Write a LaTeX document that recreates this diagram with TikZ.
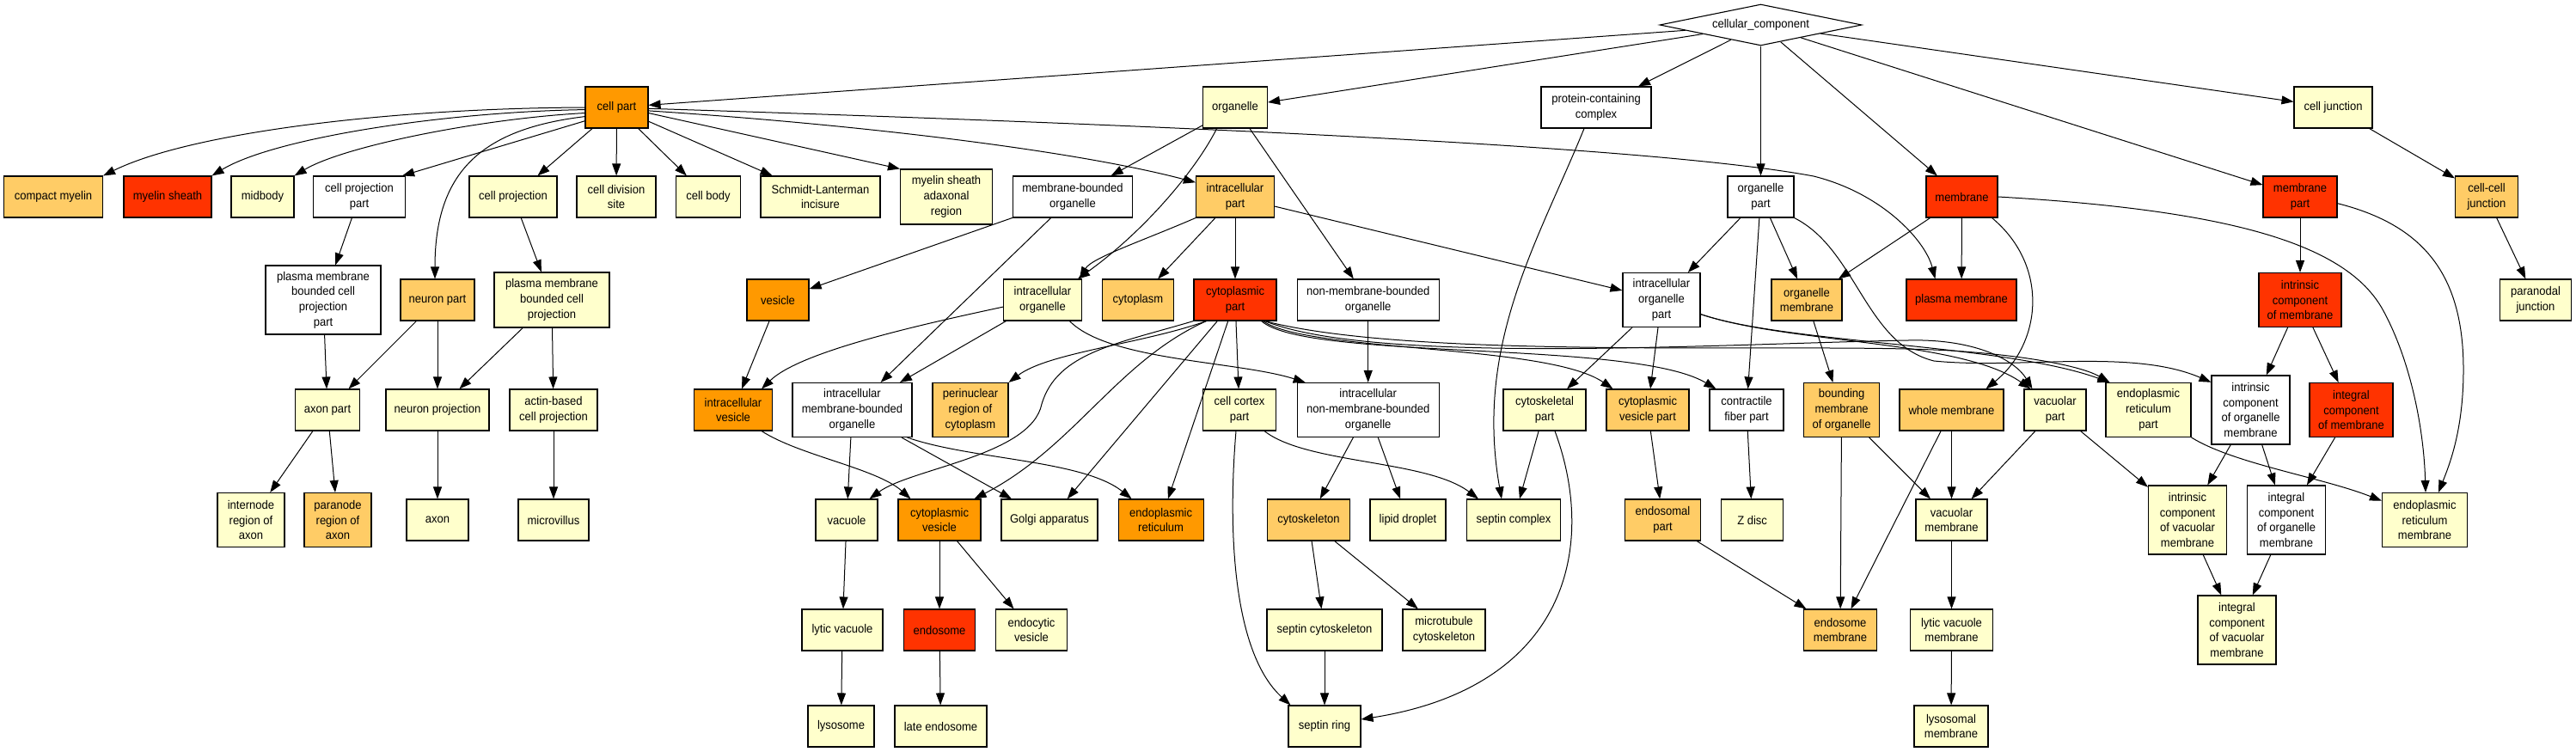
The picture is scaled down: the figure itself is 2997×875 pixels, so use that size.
\documentclass[tikz,border=0pt]{standalone}
\usepackage{fontspec}
\setmainfont{Liberation Sans}[FakeStretch=0.93]
\usetikzlibrary{arrows.meta,shapes.geometric}
\definecolor{cOr}{HTML}{FF9900}
\definecolor{cRd}{HTML}{FF3300}
\definecolor{cLo}{HTML}{FFCC66}
\definecolor{cPl}{HTML}{FFFFCC}
\newcommand\gofont{\fontsize{14}{17.7}\selectfont}
\tikzset{
 gn/.style={draw=black, line width=1.1pt, rectangle, align=center, inner sep=0pt, font=\gofont, minimum height=48, fill=white},
 wd/.style={minimum width=#1},
 ht/.style={minimum height=#1},
 fOr/.style={fill=cOr}, fRd/.style={fill=cRd}, fLo/.style={fill=cLo}, fPl/.style={fill=cPl},
 ed/.style={draw=black, line width=1pt, -{Triangle[length=14pt,width=10pt]}}
}
\begin{document}
\begin{tikzpicture}[x=1pt,y=-1pt]
\fill[white] (0,0) rectangle (2997,875);
\useasboundingbox (0,0) rectangle (2997,875);
% row 0
\node[draw=black,line width=1.1pt,diamond,aspect=4.9,minimum width=235,minimum height=48,inner sep=0pt,font=\gofont,fill=white] (cc) at (2048.5,29) {cellular\_component};
% row 1
\node[gn,fOr,wd=73] (cp) at (717.5,125) {cell part};
\node[gn,fPl,wd=75] (org) at (1437,125) {organelle};
\node[gn,wd=128] (pcc) at (1857,125) {protein-containing\\complex};
\node[gn,fPl,wd=91] (cj) at (2714.5,125) {cell junction};
% row 2
\node[gn,fLo,wd=115] (cm) at (62,229) {compact myelin};
\node[gn,fRd,wd=102] (ms) at (195,229) {myelin sheath};
\node[gn,fPl,wd=73] (mb) at (305.5,229) {midbody};
\node[gn,wd=107] (cpp) at (418,229) {cell projection\\part};
\node[gn,fPl,wd=102] (cpr) at (597,229) {cell projection};
\node[gn,fPl,wd=92] (cds) at (717,229) {cell division\\site};
\node[gn,fPl,wd=75] (cb) at (824,229) {cell body};
\node[gn,fPl,wd=139] (sli) at (954.5,229) {Schmidt-Lanterman\\incisure};
\node[gn,fPl,wd=107,ht=64] (msar) at (1101,229) {myelin sheath\\adaxonal\\region};
\node[gn,wd=139] (mbo) at (1248,229) {membrane-bounded\\organelle};
\node[gn,fLo,wd=91] (icp) at (1437,229) {intracellular\\part};
\node[gn,wd=77] (op) at (2048.5,229) {organelle\\part};
\node[gn,fRd,wd=83] (mem) at (2282.5,229) {membrane};
\node[gn,fRd,wd=86] (mp) at (2676,229) {membrane\\part};
\node[gn,fLo,wd=73] (ccj) at (2893,229) {cell-cell\\junction};
% row 3
\node[gn,wd=134,ht=80] (pmbcpp) at (376,349) {plasma membrane\\bounded cell\\projection\\part};
\node[gn,fLo,wd=86] (np) at (509,349) {neuron part};
\node[gn,fPl,wd=134,ht=64] (pmbcp) at (642,349) {plasma membrane\\bounded cell\\projection};
\node[gn,fOr,wd=72] (ves) at (905,349) {vesicle};
\node[gn,fPl,wd=91] (ico) at (1213,349) {intracellular\\organelle};
\node[gn,fLo,wd=83] (cyt) at (1324,349) {cytoplasm};
\node[gn,fRd,wd=96] (cyp) at (1437,349) {cytoplasmic\\part};
\node[gn,wd=165] (nmbo) at (1591.7,349) {non-membrane-bounded\\organelle};
\node[gn,wd=90,ht=63] (iop) at (1933,349) {intracellular\\organelle\\part};
\node[gn,fLo,wd=82] (om) at (2102,349) {organelle\\membrane};
\node[gn,fRd,wd=128] (pm) at (2282,349) {plasma membrane};
\node[gn,fRd,wd=96,ht=63] (icm) at (2676,349) {intrinsic\\component\\of membrane};
\node[gn,fPl,wd=83] (pj) at (2950,349) {paranodal\\junction};
% row 4
\node[gn,fPl,wd=75] (ap) at (381,477) {axon part};
\node[gn,fPl,wd=120] (npj) at (509,477) {neuron projection};
\node[gn,fPl,wd=102] (abcp) at (644,477) {actin-based\\cell projection};
\node[gn,fOr,wd=91] (iv) at (853,477) {intracellular\\vesicle};
\node[gn,wd=139,ht=63] (imbo) at (991.5,477) {intracellular\\membrane-bounded\\organelle};
\node[gn,fLo,wd=88,ht=63] (prc) at (1129,477) {perinuclear\\region of\\cytoplasm};
\node[gn,fPl,wd=85] (ccp) at (1442,477) {cell cortex\\part};
\node[gn,wd=165,ht=63] (inmbo) at (1591.7,477) {intracellular\\non-membrane-bounded\\organelle};
\node[gn,fPl,wd=96] (cskp) at (1797,477) {cytoskeletal\\part};
\node[gn,fLo,wd=96] (cvp) at (1917,477) {cytoplasmic\\vesicle part};
\node[gn,wd=86] (cfp) at (2032,477) {contractile\\fiber part};
\node[gn,fLo,wd=88,ht=63] (bmo) at (2142.6,477) {bounding\\membrane\\of organelle};
\node[gn,fLo,wd=121] (wm) at (2270.5,477) {whole membrane};
\node[gn,fPl,wd=72] (vp) at (2391,477) {vacuolar\\part};
\node[gn,fPl,wd=99,ht=63] (erp) at (2499.5,477) {endoplasmic\\reticulum\\part};
\node[gn,wd=91,ht=80] (icom) at (2618.5,477) {intrinsic\\component\\of organelle\\membrane};
\node[gn,fRd,wd=97,ht=63] (igm) at (2735.5,477) {integral\\component\\of membrane};
% row 5
\node[gn,fPl,wd=78,ht=63] (ira) at (292,605) {internode\\region of\\axon};
\node[gn,fLo,wd=78,ht=63] (pra) at (393,605) {paranode\\region of\\axon};
\node[gn,fPl,wd=72] (axon) at (509,605) {axon};
\node[gn,fPl,wd=82] (mv) at (644,605) {microvillus};
\node[gn,fPl,wd=72] (vac) at (985,605) {vacuole};
\node[gn,fOr,wd=96] (cv) at (1093,605) {cytoplasmic\\vesicle};
\node[gn,fPl,wd=112] (ga) at (1221,605) {Golgi apparatus};
\node[gn,fOr,wd=99] (er) at (1350.6,605) {endoplasmic\\reticulum};
\node[gn,fLo,wd=96] (csk) at (1522.5,605) {cytoskeleton};
\node[gn,fPl,wd=88] (ld) at (1638,605) {lipid droplet};
\node[gn,fPl,wd=109] (sc) at (1761,605) {septin complex};
\node[gn,fLo,wd=88] (ep) at (1934.5,605) {endosomal\\part};
\node[gn,fPl,wd=72] (zd) at (2038.6,605) {Z disc};
\node[gn,fPl,wd=83] (vm) at (2270.5,605) {vacuolar\\membrane};
\node[gn,fPl,wd=91,ht=80] (icvm) at (2545,605) {intrinsic\\component\\of vacuolar\\membrane};
\node[gn,wd=91,ht=80] (igom) at (2660,605) {integral\\component\\of organelle\\membrane};
\node[gn,fPl,wd=99,ht=63] (erm) at (2821,605) {endoplasmic\\reticulum\\membrane};
% row 6
\node[gn,fPl,wd=94] (lv) at (980,733) {lytic vacuole};
\node[gn,fRd,wd=83] (endo) at (1093,733) {endosome};
\node[gn,fPl,wd=83] (ecv) at (1200,733) {endocytic\\vesicle};
\node[gn,fPl,wd=134] (scs) at (1541,733) {septin cytoskeleton};
\node[gn,fPl,wd=96] (mtc) at (1680,733) {microtubule\\cytoskeleton};
\node[gn,fLo,wd=85] (em) at (2141,733) {endosome\\membrane};
\node[gn,fPl,wd=96] (lvm) at (2270.5,733) {lytic vacuole\\membrane};
\node[gn,fPl,wd=91,ht=80] (igvm) at (2602.5,733) {integral\\component\\of vacuolar\\membrane};
% row 7
\node[gn,fPl,wd=77] (lys) at (978.5,845) {lysosome};
\node[gn,fPl,wd=107] (le) at (1094.5,845) {late endosome};
\node[gn,fPl,wd=84] (sr) at (1541,845) {septin ring};
\node[gn,fPl,wd=86] (lsm) at (2270,845) {lysosomal\\membrane};

% straight edges
\foreach \a/\b in {cc/cp,cc/org,cc/pcc,cc/op,cc/mem,cc/mp,cc/cj,cp/cpr,cp/cds,cp/cb,cp/sli,
 org/mbo,org/nmbo,cj/ccj,ccj/pj,cpp/pmbcpp,cpr/pmbcp,pmbcpp/ap,np/ap,np/npj,pmbcp/npj,pmbcp/abcp,
 ap/ira,ap/pra,npj/axon,abcp/mv,mbo/ves,mbo/imbo,icp/cyt,icp/cyp,icp/iop,op/iop,op/om,op/cfp,
 mem/om,mem/pm,mp/icm,icm/icom,icm/igm,ico/imbo,nmbo/inmbo,ves/iv,imbo/vac,imbo/ga,cyp/ga,cyp/er,
 cyp/ccp,cskp/sc,inmbo/csk,inmbo/ld,csk/scs,csk/mtc,scs/sr,cvp/ep,cfp/zd,ep/em,om/bmo,bmo/em,bmo/vm,
 wm/em,wm/vm,vp/vm,vp/icvm,icom/icvm,icom/igom,igm/igom,icvm/igvm,igom/igvm,vm/lvm,lvm/lsm,
 vac/lv,lv/lys,cv/endo,endo/le,cv/ecv,iop/cskp,iop/cvp}
 \draw[ed] (\a) -- (\b);

% curved edges from cell part
\draw[ed] (cp.west) .. controls (450,126) and (220,155) .. (cm.north east);
\draw[ed] (cp.184) .. controls (520,130) and (320,160) .. (ms.north east);
\draw[ed] (cp.190) .. controls (560,138) and (400,170) .. (mb.north east);
\draw[ed] (cp.196) .. controls (560,150) and (506,200) .. ([xshift=-3pt]np.north);
\draw[ed] (cp.203) -- ([xshift=-4pt]cpp.north east);
\draw[ed] (cp.350) -- (msar.north west);
\draw[ed] (cp.354) .. controls (1000,145) and (1250,175) .. (icp.160);
\draw[ed] (cp.358) .. controls (1500,150) and (1950,175) .. (2110,205) .. controls (2190,225) and (2240,280) .. ([xshift=34pt]pm.north west);
% organelle / intracellular part
\draw[ed] (org.229) .. controls (1390,200) and (1330,270) .. ([xshift=-5pt]ico.north east);
\draw[ed] (icp.south west) .. controls (1330,280) and (1270,300) .. ([xshift=-3pt]ico.north east);
\draw[ed] ([xshift=-14pt]pcc.south) .. controls (1790,280) and (1715,400) .. ([xshift=-14pt]sc.north);
% organelle part, membrane, membrane part
\draw[ed] (op.south east) .. controls (2160,290) and (2170,400) .. (2250,420) .. controls (2350,430) and (2480,405) .. (icom.145);
\draw[ed] ([xshift=-7pt]mem.south east) .. controls (2385,310) and (2375,400) .. ([xshift=40pt]wm.north);
\draw[ed] (mem.east) .. controls (2600,245) and (2730,285) .. (2772,360) .. controls (2805,420) and (2820,500) .. ([xshift=1pt]erm.north);
\draw[ed] (mp.350) .. controls (2820,262) and (2866,320) .. (2866,430) .. controls (2866,500) and (2850,540) .. ([xshift=16pt]erm.north);
% intracellular organelle
\draw[ed] (ico.190) .. controls (1060,380) and (930,410) .. ([xshift=-13pt]iv.north east);
\draw[ed] (ico.322) .. controls (1290,420) and (1440,420) .. ([xshift=10pt]inmbo.north west);
\draw[ed] ([xshift=-13pt]iv.south east) .. controls (930,530) and (1020,545) .. ([xshift=15pt]cv.north west);
\draw[ed] ([xshift=-6pt]imbo.south east) .. controls (1130,535) and (1260,535) .. ([xshift=16pt]er.north west);
% cytoplasmic part
\draw[ed] ([xshift=15pt]cyp.south west) .. controls (1330,400) and (1220,410) .. (prc.north east);
\draw[ed] (cyp.south west) .. controls (1300,400) and (1230,410) .. (1212,470) .. controls (1200,530) and (1060,545) .. ([xshift=-10pt]vac.north east);
\draw[ed] ([xshift=15pt]cyp.south west) .. controls (1300,420) and (1250,520) .. ([xshift=-8pt]cv.north east);
\draw[ed] ([xshift=-16pt]cyp.south east) .. controls (1520,410) and (1800,400) .. ([xshift=8pt]cvp.north west);
\draw[ed] ([xshift=-18pt]cyp.south east) .. controls (1520,420) and (1900,395) .. ([xshift=8pt]cfp.north west);
\draw[ed] ([xshift=-14pt]cyp.south east) .. controls (1600,425) and (2000,400) .. (2220,396) .. controls (2300,394) and (2345,420) .. ([xshift=10pt]vp.north west);
\draw[ed] ([xshift=-14pt]cyp.south east) .. controls (1650,420) and (2100,398) .. (2270,408) .. controls (2350,413) and (2420,425) .. ([xshift=5pt]erp.north west);
% intracellular organelle part
\draw[ed] (iop.340) .. controls (2080,400) and (2280,395) .. ([xshift=8pt]vp.north west);
\draw[ed] (iop.340) .. controls (2080,400) and (2330,400) .. ([xshift=5pt]erp.north west);
% septins
\draw[ed] ([xshift=12pt]cskp.south) .. controls (1860,640) and (1820,800) .. ([yshift=8pt]sr.east);
\draw[ed] ([xshift=-14pt]ccp.south east) .. controls (1520,540) and (1660,535) .. ([xshift=14pt]sc.north west);
\draw[ed] ([xshift=-4pt]ccp.south) .. controls (1428,620) and (1435,760) .. ([xshift=3pt]sr.north west);
% ER part
\draw[ed] (erp.south east) .. controls (2600,540) and (2700,555) .. (erm.156);
\end{tikzpicture}
\end{document}
